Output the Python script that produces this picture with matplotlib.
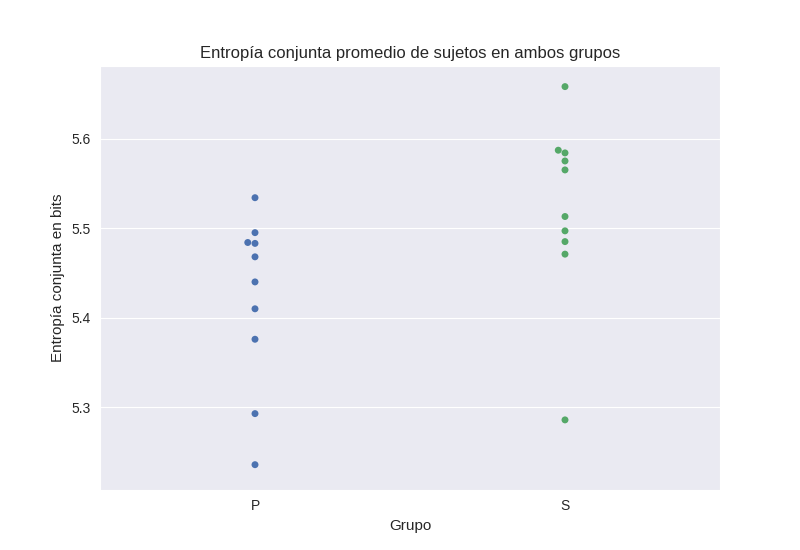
import matplotlib
matplotlib.use("Agg")
import matplotlib.pyplot as plt
import seaborn as sns
import pandas as pd

grupo_p = [5.534, 5.495, 5.484, 5.483, 5.468, 5.440, 5.410, 5.376, 5.293, 5.236]
grupo_s = [5.658, 5.587, 5.584, 5.575, 5.565, 5.513, 5.497, 5.485, 5.471, 5.286]
categorias = ["P", "S"]
colores = ["#4C72B0", "#55A868"]

sns.set_style("darkgrid")
plt.rcParams['font.family'] = ['Liberation Sans', 'DejaVu Sans']

df = pd.DataFrame({
    "Grupo": ["P"] * len(grupo_p) + ["S"] * len(grupo_s),
    "Entropia": grupo_p + grupo_s,
})

fig, ax = plt.subplots(figsize=(8, 5.5), dpi=100)
sns.swarmplot(data=df, x="Grupo", y="Entropia", hue="Grupo", order=categorias,
              palette=dict(zip(categorias, colores)), legend=False, ax=ax, size=5)
ax.set_title("Entropía conjunta promedio de sujetos en ambos grupos", fontsize=12, color=".15")
ax.set_xlabel("Grupo", fontsize=11, color=".15")
ax.set_ylabel("Entropía conjunta en bits", fontsize=11, color=".15")
ax.set_yticks([5.3, 5.4, 5.5, 5.6])
ax.set_ylim(5.2083, 5.681)
ax.tick_params(labelsize=10, colors=".15")
ax.grid(axis="x", visible=False)
fig.subplots_adjust(left=0.125, right=0.9, top=0.88, bottom=0.11)
fig.savefig("out.png", dpi=100)
